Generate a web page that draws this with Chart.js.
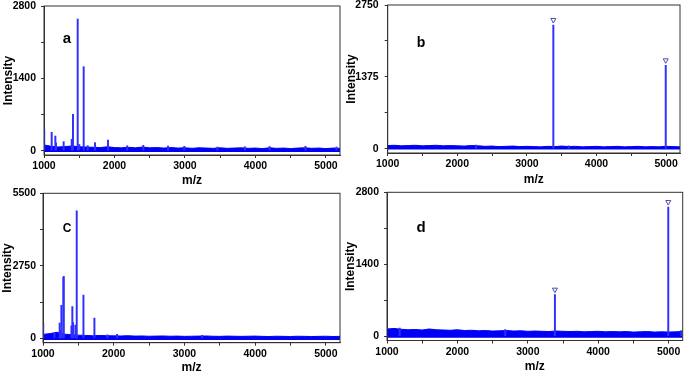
<!DOCTYPE html>
<html><head><meta charset="utf-8">
<script src="https://cdn.jsdelivr.net/npm/chart.js@4/dist/chart.umd.min.js"></script>
<style>
html,body{margin:0;padding:0;background:#fff;}
body{width:685px;height:373px;position:relative;overflow:hidden;font-family:'Liberation Sans',Arial,sans-serif;}
.panel{position:absolute;}
.panel canvas{display:block;}
.lbl{position:absolute;font-weight:bold;color:#000;line-height:1;transform:translate(-50%,-50%);white-space:nowrap;}
</style></head><body>
<div class="panel" id="pa" style="left:0px;top:0px"><canvas id="ca"></canvas></div>
<div class="panel" id="pb" style="left:340px;top:0px"><canvas id="cb"></canvas></div>
<div class="panel" id="pc" style="left:0px;top:185px"><canvas id="cc"></canvas></div>
<div class="panel" id="pd" style="left:340px;top:185px"><canvas id="cd"></canvas></div>
<div class="lbl" style="left:67px;top:37px;font-size:15px">a</div>
<div class="lbl" style="left:421px;top:42px;font-size:14px">b</div>
<div class="lbl" style="left:67px;top:228px;font-size:12px">C</div>
<div class="lbl" style="left:421px;top:226px;font-size:15px">d</div>
<script>
// ---------- shared axis data ----------
const xTicks = [1000, 1500, 2000, 2500, 3000, 3500, 4000, 4500, 5000];
const xTickLabels = ['1000', '', '2000', '', '3000', '', '4000', '', '5000'];
const noiseMz = [1000, 1100, 1200, 1300, 1400, 1500, 1600, 1700, 1800, 1900,
  2000, 2100, 2200, 2300, 2400, 2500, 2600, 2700, 2800, 2900,
  3000, 3100, 3200, 3300, 3400, 3500, 3600, 3700, 3800, 3900,
  4000, 4100, 4200, 4300, 4400, 4500, 4600, 4700, 4800, 4900,
  5000, 5100, 5200];

// ---------- panel a ----------
const peaksMzA  = [1003, 1109, 1161, 1170, 1279, 1393, 1411, 1478, 1501, 1563, 1620, 1724, 1908, 2180, 2409, 2760, 2990, 3460, 3850, 4200, 4710, 5150];
const peaksIntA = [414, 356, 284, 150, 174, 220, 704, 2548, 120, 1625, 97, 155, 207, 95, 104, 90, 85, 70, 75, 80, 85, 70];
const noiseHiA  = [110, 85, 70, 80, 90, 75, 70, 65, 60, 75, 60, 55, 65, 55, 70, 55, 60, 50, 60, 50, 55, 45, 55, 50, 45, 55, 45, 50, 55, 45, 50, 40, 55, 45, 50, 40, 50, 55, 45, 50, 40, 50, 45];
const noiseLoA  = -25;
const yTicksA = [0, 700, 1400, 2100, 2800];
const yTickLabelsA = ['0', '', '1400', '', '2800'];
const markersA = [];

// ---------- panel b ----------
const peaksMzB  = [2270, 3380, 3600, 4995];
const peaksIntB = [70, 2367, 55, 1596];
const noiseHiB  = [60, 65, 55, 60, 65, 55, 60, 65, 55, 60, 55, 50, 60, 55, 45, 50, 40, 45, 50, 40, 45, 40, 35, 45, 40, 50, 40, 45, 35, 40, 45, 35, 40, 45, 35, 40, 45, 35, 40, 35, 45, 40, 35];
const noiseLoB  = -15;
const yTicksB = [0, 687.5, 1375, 2062.5, 2750];
const yTickLabelsB = ['0', '', '1375', '', '2750'];
const markersB = [3380, 4995];

// ---------- panel c ----------
const peaksMzC  = [1003, 1161, 1236, 1250, 1260, 1288, 1293, 1402, 1415, 1425, 1458, 1477, 1572, 1727, 1911, 2048, 3250];
const peaksIntC = [576, 200, 576, 300, 1255, 2300, 2347, 475, 1205, 600, 500, 4833, 1643, 765, 137, 150, 110];
const noiseHiC  = [150, 180, 230, 160, 140, 120, 110, 100, 110, 100, 95, 90, 100, 85, 90, 80, 85, 90, 80, 85, 75, 80, 85, 90, 80, 75, 85, 80, 75, 80, 85, 75, 70, 80, 75, 70, 80, 75, 70, 75, 80, 70, 75];
const noiseLoC  = -60;
const yTicksC = [0, 1375, 2750, 4125, 5500];
const yTickLabelsC = ['0', '', '2750', '', '5500'];
const markersC = [];

// ---------- panel d ----------
const peaksMzD  = [1180, 2680, 3385, 4995, 5180];
const peaksIntD = [160, 130, 808, 2513, 110];
const noiseHiD  = [140, 150, 135, 125, 130, 120, 140, 125, 120, 115, 125, 110, 115, 105, 110, 100, 105, 110, 100, 105, 95, 100, 95, 90, 100, 95, 90, 95, 85, 90, 95, 85, 90, 85, 90, 80, 85, 90, 80, 85, 80, 85, 90];
const noiseLoD  = -30;
const yTicksD = [0, 700, 1400, 2100, 2800];
const yTickLabelsD = ['0', '', '1400', '', '2800'];
const markersD = [3385, 4995];

// ---------- rendering ----------
const FAMILY = "'Liberation Sans', Arial, sans-serif";
const BAND = '#0000f5';
const PEAK = '#2f2fff';
const AXIS = '#333333';

const framePlugin = {
  id: 'frame',
  afterDraw(chart) {
    const a = chart.chartArea, ctx = chart.ctx;
    ctx.save();
    ctx.strokeStyle = AXIS; ctx.lineWidth = 1;
    ctx.strokeRect(a.left, a.top, a.right - a.left, a.bottom - a.top);
    ctx.restore();
  }
};
const markerPlugin = {
  id: 'peakMarkers',
  afterDatasetsDraw(chart, args, opts) {
    const list = opts.list || [];
    const ctx = chart.ctx, xs = chart.scales.x, ys = chart.scales.y;
    ctx.save();
    ctx.strokeStyle = '#4a4ab4'; ctx.lineWidth = 1;
    list.forEach(m => {
      const i = opts.mz.indexOf(m);
      const px = xs.getPixelForValue(m);
      const py = ys.getPixelForValue(opts.val[i]) - 2;
      ctx.beginPath();
      ctx.moveTo(px - 2.5, py - 4.5);
      ctx.lineTo(px + 2.5, py - 4.5);
      ctx.lineTo(px, py);
      ctx.closePath();
      ctx.stroke();
    });
    ctx.restore();
  }
};

function buildPanel(id, g, d) {
  const cv = document.getElementById(id);
  cv.width = g.W; cv.height = g.H;
  cv.style.width = g.W + 'px'; cv.style.height = g.H + 'px';
  const peakData = d.mz.map((x, i) => ({x: x, y: d.val[i]}));
  const noiseData = noiseMz.map((x, i) => ({x: x, y: d.hi[i]}));
  const yMax = d.yTicks[d.yTicks.length - 1];
  const tickFont = {family: FAMILY, size: 10.5, weight: 'bold'};
  const titleFont = {family: FAMILY, size: 12, weight: 'bold'};
  const gridOpts = {display: true, drawOnChartArea: false, drawTicks: true, tickLength: 3, color: AXIS, offset: false};
  const noPad = s => { s.paddingTop = 0; s.paddingBottom = 0; s.paddingLeft = 0; s.paddingRight = 0; };
  new Chart(cv, {
    type: 'bar',
    data: {
      datasets: [
        {type: 'line', data: noiseData, borderColor: BAND, backgroundColor: BAND, borderWidth: 1,
         pointRadius: 0, tension: 0, fill: {value: d.lo}, order: 2},
        {type: 'bar', data: peakData, backgroundColor: PEAK, borderWidth: 0, barThickness: 1.3, order: 1}
      ]
    },
    options: {
      responsive: false, animation: false, devicePixelRatio: 1,
      layout: {padding: {left: 0, right: g.W - g.r, top: g.t, bottom: 0}},
      plugins: {legend: {display: false}, tooltip: {enabled: false},
        peakMarkers: {list: d.markers, mz: d.mz, val: d.val}},
      scales: {
        x: {
          type: 'linear', min: 1000, max: 5200, offset: false,
          afterBuildTicks: s => { s.ticks = xTicks.map(v => ({value: v})); },
          ticks: {callback: (v, i) => xTickLabels[i], font: tickFont, color: '#000', padding: 2,
                  maxRotation: 0, autoSkip: false},
          grid: gridOpts,
          border: {display: true, color: AXIS, width: 1},
          title: {display: true, text: 'm/z', font: titleFont, color: '#000',
                  padding: {top: 0, bottom: g.H - 7.2 - g.xTitleY}},
          afterFit: s => { s.height = g.H - g.b; noPad(s); }
        },
        y: {
          type: 'linear', min: -0.03 * yMax, max: yMax,
          afterBuildTicks: s => { s.ticks = d.yTicks.map(v => ({value: v})); },
          ticks: {callback: (v, i) => d.yTickLabels[i], font: tickFont, color: '#000', padding: g.yPad,
                  autoSkip: false},
          grid: gridOpts,
          border: {display: true, color: AXIS, width: 1},
          title: {display: true, text: 'Intensity', font: titleFont, color: '#000',
                  padding: {top: g.yTitleX - 7.2, bottom: 0}},
          afterFit: s => { s.width = g.l; noPad(s); }
        }
      }
    },
    plugins: [framePlugin, markerPlugin]
  });
}

buildPanel('ca', {W: 345, H: 188, l: 44, t: 6, r: 340, b: 155, xTitleY: 181, yTitleX: 8.5, yPad: 5},
  {mz: peaksMzA, val: peaksIntA, hi: noiseHiA, lo: noiseLoA, yTicks: yTicksA, yTickLabels: yTickLabelsA, markers: markersA});
buildPanel('cb', {W: 345, H: 188, l: 47.7, t: 5, r: 340, b: 153, xTitleY: 180, yTitleX: 11.7, yPad: 6},
  {mz: peaksMzB, val: peaksIntB, hi: noiseHiB, lo: noiseLoB, yTicks: yTicksB, yTickLabels: yTickLabelsB, markers: markersB});
buildPanel('cc', {W: 345, H: 188, l: 43, t: 8.3, r: 340, b: 157.7, xTitleY: 182.5, yTitleX: 7.5, yPad: 4},
  {mz: peaksMzC, val: peaksIntC, hi: noiseHiC, lo: noiseLoC, yTicks: yTicksC, yTickLabels: yTickLabelsC, markers: markersC});
buildPanel('cd', {W: 345, H: 188, l: 47, t: 7.3, r: 342.7, b: 155.5, xTitleY: 182, yTitleX: 11, yPad: 5},
  {mz: peaksMzD, val: peaksIntD, hi: noiseHiD, lo: noiseLoD, yTicks: yTicksD, yTickLabels: yTickLabelsD, markers: markersD});
</script>
</body></html>
